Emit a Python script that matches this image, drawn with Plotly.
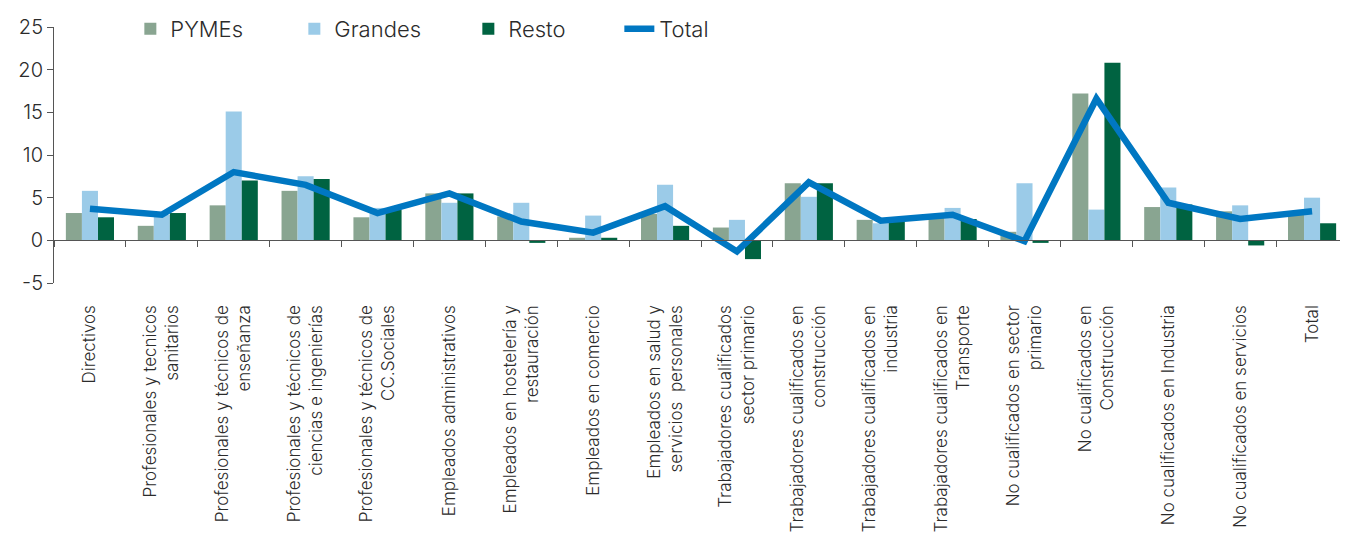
import plotly.graph_objects as go

categories = [
    "Directivos",
    "Profesionales y tecnicos<br>sanitarios",
    "Profesionales y técnicos de<br>enseñanza",
    "Profesionales y técnicos de<br>ciencias e ingenierías",
    "Profesionales y técnicos de<br>CC.Sociales",
    "Empleados administrativos",
    "Empleados en hostelería y<br>restauración",
    "Empleados en comercio",
    "Empleados en salud y<br>servicios  personales",
    "Trabajadores cualificados<br>sector primario",
    "Trabajadores cualificados en<br>construcción",
    "Trabajadores cualificados en<br>industria",
    "Trabajadores cualificados en<br>Transporte",
    "No cualificados en sector<br>primario",
    "No cualificados en<br>Construcción",
    "No cualificados en Industria",
    "No cualificados en servicios",
    "Total",
]

pymes   = [3.2, 1.7, 4.1, 5.8, 2.7, 5.5, 2.8, 0.3, 3.1, 1.5, 6.7, 2.4, 3.0, 1.0, 17.2, 3.9, 3.4, 3.1]
grandes = [5.8, 3.0, 15.1, 7.5, 3.8, 4.4, 4.4, 2.9, 6.5, 2.4, 5.1, 2.0, 3.8, 6.7, 3.6, 6.2, 4.1, 5.0]
resto   = [2.7, 3.2, 7.0, 7.2, 3.6, 5.5, -0.3, 0.3, 1.7, -2.2, 6.7, 2.2, 2.5, -0.3, 20.8, 4.2, -0.6, 2.0]
total   = [3.7, 3.0, 8.0, 6.5, 3.2, 5.5, 2.2, 0.9, 4.0, -1.3, 6.8, 2.3, 3.0, -0.1, 16.6, 4.4, 2.5, 3.4]

y_ticks = [-5, 0, 5, 10, 15, 20, 25]

FONT = "Inter, Liberation Sans, Arial, sans-serif"
TXT = "#2b2b2b"
AX = "#555555"

fig = go.Figure()
fig.add_trace(go.Bar(name="PYMEs", x=categories, y=pymes, marker_color="#89a591",
                     marker_line_width=0, legendwidth=119))
fig.add_trace(go.Bar(name="Grandes", x=categories, y=grandes, marker_color="#9bcbe8",
                     marker_line_width=0, legendwidth=129))
fig.add_trace(go.Bar(name="Resto", x=categories, y=resto, marker_color="#006341",
                     marker_line_width=0, legendwidth=106))
fig.add_trace(go.Scatter(name="Total", x=categories, y=total, mode="lines",
                         line=dict(color="#0077c2", width=6.5), legendwidth=100))

fig.update_layout(
    width=1340, height=530,
    margin=dict(l=46, r=0, t=19, b=255, autoexpand=False),
    paper_bgcolor="white", plot_bgcolor="white",
    barmode="group", bargap=0.33, bargroupgap=0,
    font=dict(family=FONT, color=TXT, weight=300),
    showlegend=True,
    legend=dict(orientation="h", x=0.059, y=0.992, xanchor="left", yanchor="middle",
                font=dict(size=22, color=TXT, weight=300),
                bgcolor="rgba(0,0,0,0)"),
    xaxis=dict(
        type="category", anchor="free", position=5/30,
        showline=True, linecolor=AX, linewidth=1,
        ticks="outside", tickson="boundaries", ticklen=6, tickcolor=AX,
        tickangle=-90, tickfont=dict(size=17, color=TXT, weight=300),
        ticklabelstandoff=57, showgrid=False, zeroline=False,
    ),
    yaxis=dict(
        range=[-5, 25], tickvals=y_ticks, ticktext=[str(v) for v in y_ticks],
        showline=True, linecolor=AX, linewidth=1,
        ticks="outside", ticklen=6, tickcolor=AX,
        tickfont=dict(size=20, color=TXT, weight=300), showgrid=False, zeroline=False,
    ),
)

fig.write_html("out.html")
